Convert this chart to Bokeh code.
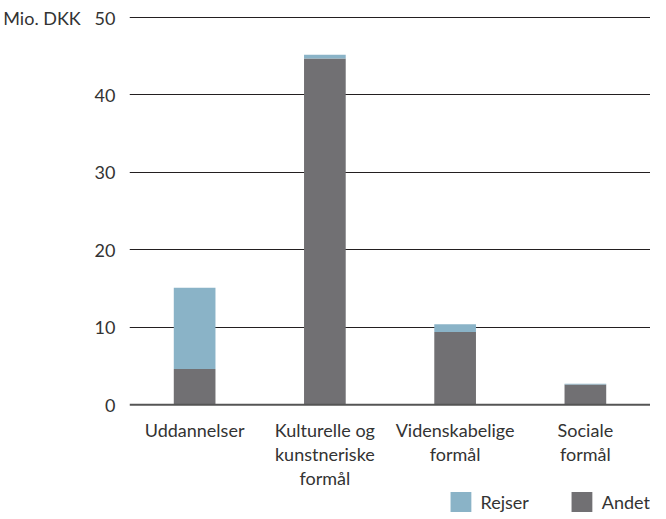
from bokeh.plotting import figure
from bokeh.models import Legend, LegendItem, Range1d, FactorRange, Span, ColumnDataSource, FixedTicker
from bokeh.core.properties import value
from bokeh.embed import file_html
from bokeh.resources import INLINE

categories = ["Uddannelser", "Kulturelle og\nkunstneriske\nformål", "Videnskabelige\nformål", "Sociale\nformål"]
andet = [4.6, 44.7, 9.4, 2.6]
rejser = [10.5, 0.5, 1.0, 0.1]
series = ["andet", "rejser"]
series_labels = ["Andet", "Rejser"]
colors = ["#717073", "#8ab3c7"]
yticks = [0, 10, 20, 30, 40, 50]

FONT = "Lato"
TXT = "#333333"
FS = "18px"

p = figure(width=650, height=514, x_range=FactorRange(*categories), y_range=Range1d(-14.18, 50.13),
           output_backend="svg", toolbar_location=None,
           min_border_left=120, min_border_right=0, min_border_top=16, min_border_bottom=0)
p.xaxis.visible = False

src = ColumnDataSource(dict(cat=categories, andet=andet, rejser=rejser, zero=[0] * len(categories)))
rs = p.vbar_stack(series, x="cat", width=0.32, color=colors, source=src, line_width=0)

p.add_layout(Span(location=0, dimension="width", line_color="#555555", line_width=2))

p.text(x="cat", y="zero", text="cat", source=src, text_font=value(FONT), text_font_size=value(FS),
       text_color=TXT, text_align="center", text_baseline="top", y_offset=14,
       text_line_height=1.1)

p.outline_line_color = None
p.xgrid.grid_line_color = None
p.ygrid.grid_line_color = "#231f20"
p.ygrid.grid_line_width = 1
p.ygrid.ticker = FixedTicker(ticks=yticks[1:])

p.yaxis.ticker = yticks
p.yaxis.axis_line_color = None
p.yaxis.major_tick_line_color = None
p.yaxis.minor_tick_line_color = None
p.yaxis.major_label_standoff = 8
p.yaxis.major_label_text_font = FONT
p.yaxis.major_label_text_font_size = FS
p.yaxis.major_label_text_color = TXT
p.yaxis.major_label_overrides = {50: "Mio. DKK\u00a0\u00a0\u00a050"}

legend = Legend(items=[LegendItem(label=series_labels[1], renderers=[rs[1]]),
                       LegendItem(label=series_labels[0], renderers=[rs[0]])],
                orientation="horizontal", location="bottom_right",
                glyph_width=26, glyph_height=25, label_standoff=7, spacing=40,
                label_height=25, label_text_baseline="middle",
                label_text_font=FONT, label_text_font_size=FS, label_text_color=TXT,
                border_line_color=None, background_fill_alpha=0, margin=0, padding=0)
p.add_layout(legend, "center")

open("out.html", "w").write(file_html(p, INLINE))
